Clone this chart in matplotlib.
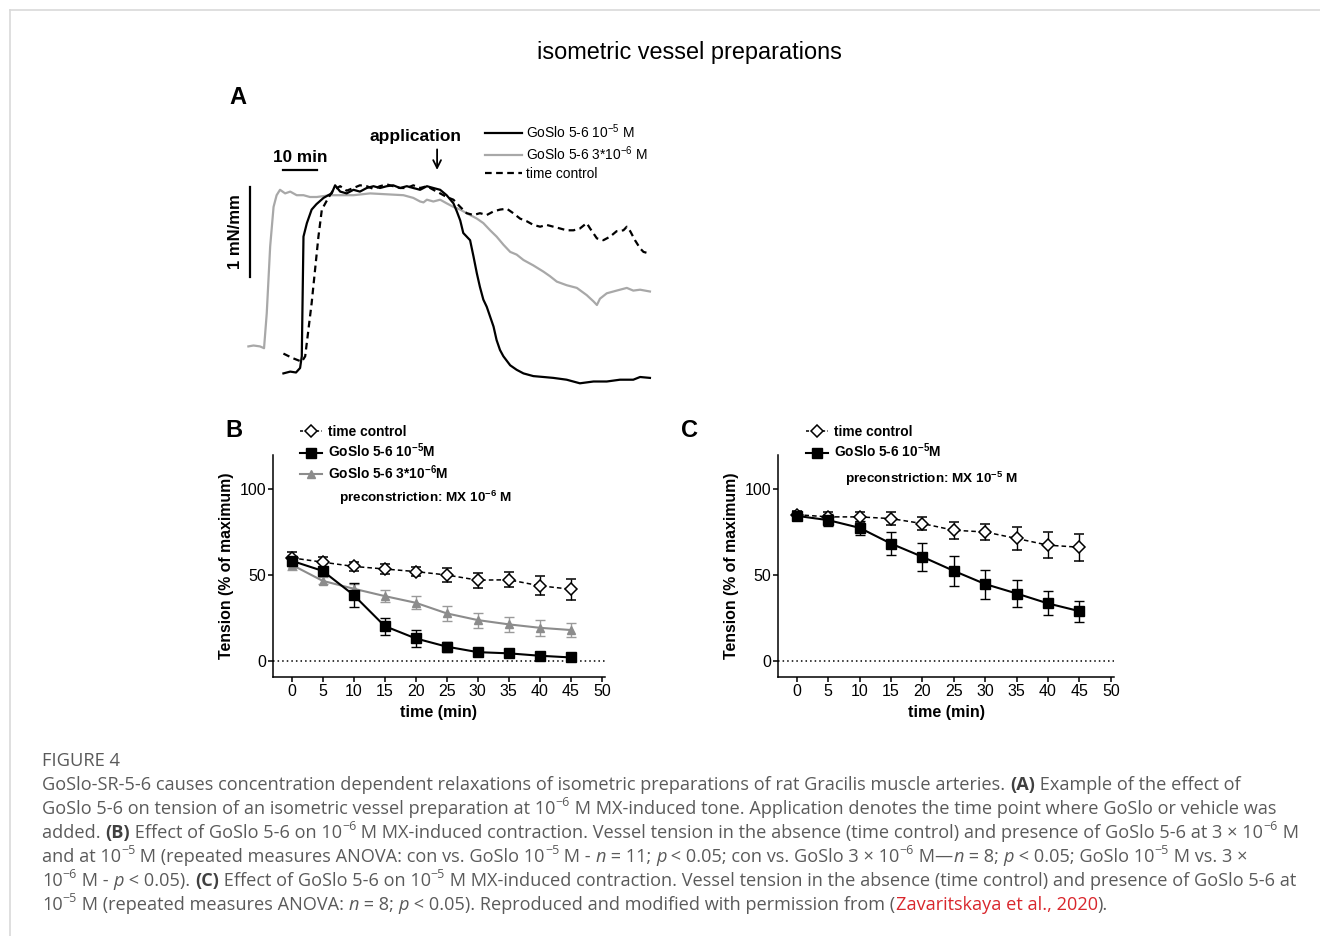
import matplotlib
matplotlib.use("Agg")
import matplotlib.pyplot as plt
from matplotlib.lines import Line2D

W, H = 1320, 936

plt.rcParams['font.family'] = 'Liberation Sans'
plt.rcParams['mathtext.fontset'] = 'custom'
plt.rcParams['mathtext.rm'] = 'Liberation Sans'
plt.rcParams['mathtext.bf'] = 'Liberation Sans:bold'
plt.rcParams['mathtext.it'] = 'Liberation Sans:italic'
plt.rcParams['mathtext.default'] = 'regular'

## Data
# Panel A: example myograph traces (time in min, tension in mN/mm)
gray_t = [0, 1.5, 3.4, 4.6, 5.4, 6.4, 7.4, 8.3, 9.3, 10.8, 12.3, 14.2, 16.2, 18.1, 20.1, 22.1,
          24.0, 27.0, 30.9, 35.8, 40.7, 45.6, 48.5, 50.5, 51.5, 52.5, 54.4, 56.4, 58.3, 60.3,
          62.3, 64.2, 67.2, 69.1, 71.1, 73.0, 75.0, 77.0, 78.9, 80.9, 83.8, 86.8, 88.7, 90.7,
          93.6, 96.6, 99.5, 101.5, 102.5, 103.4, 105.4, 108.3, 111.3, 113.2, 115.2, 118.1]
gray_f = [0.41, 0.42, 0.41, 0.39, 0.78, 1.52, 1.96, 2.09, 2.15, 2.11, 2.13, 2.09, 2.09, 2.07, 2.07, 2.08,
          2.09, 2.09, 2.09, 2.11, 2.10, 2.09, 2.06, 2.02, 2.01, 2.04, 2.02, 2.04, 2.00, 1.96,
          1.93, 1.89, 1.83, 1.78, 1.70, 1.63, 1.54, 1.46, 1.43, 1.37, 1.31, 1.24, 1.19, 1.13,
          1.09, 1.06, 0.98, 0.91, 0.87, 0.94, 1.00, 1.03, 1.06, 1.03, 1.04, 1.02]

black_t = [10.3, 12.3, 14.0, 15.2, 15.7, 16.2, 17.2, 18.6, 20.0, 22.1, 23.5, 24.5, 25.5, 27.0,
           28.9, 30.9, 32.8, 34.8, 36.8, 38.7, 40.7, 42.6, 44.6, 46.6, 48.5, 50.5, 52.5, 54.4,
           56.4, 58.3, 60.3, 61.3, 62.3, 63.2, 64.2, 65.2, 66.2, 67.2, 68.1, 69.1, 70.1, 71.1,
           72.1, 73.0, 74.0, 75.0, 77.0, 78.9, 80.9, 83.8, 86.8, 89.7, 93.6, 97.5, 101.5, 105.4,
           109.3, 113.2, 115.2, 118.1]
black_f = [0.11, 0.13, 0.12, 0.17, 0.30, 1.63, 1.78, 1.93, 1.99, 2.06, 2.09, 2.11, 2.20, 2.13,
           2.11, 2.15, 2.13, 2.17, 2.19, 2.17, 2.19, 2.20, 2.17, 2.19, 2.17, 2.15, 2.19, 2.17,
           2.15, 2.09, 2.00, 1.91, 1.81, 1.67, 1.63, 1.59, 1.41, 1.22, 1.07, 0.93, 0.85, 0.74,
           0.63, 0.48, 0.37, 0.30, 0.20, 0.15, 0.11, 0.08, 0.07, 0.06, 0.04, 0.00, 0.02, 0.02,
           0.04, 0.04, 0.07, 0.06]

ctrl_t = [10.3, 13.0, 15.7, 16.7, 18.6, 20.6, 21.6, 23.5, 25.0, 27.0, 28.9, 30.9, 32.8, 34.8,
          36.8, 38.7, 40.7, 42.6, 44.6, 46.6, 48.5, 50.5, 52.5, 54.4, 56.4, 58.3, 60.3, 62.3,
          64.2, 66.2, 68.1, 70.1, 72.1, 74.0, 76.0, 77.9, 79.9, 81.9, 83.8, 85.8, 87.7, 89.7,
          91.7, 93.6, 95.6, 97.5, 99.5, 100.5, 102.5, 104.4, 106.4, 108.3, 110.3, 111.3, 112.3,
          113.7, 115.2, 116.2, 118.1]
ctrl_f = [0.33, 0.28, 0.24, 0.30, 0.89, 1.63, 1.93, 2.06, 2.15, 2.19, 2.14, 2.17, 2.20, 2.19,
          2.16, 2.19, 2.21, 2.19, 2.17, 2.17, 2.20, 2.17, 2.19, 2.15, 2.11, 2.07, 2.04, 1.96,
          1.89, 1.87, 1.89, 1.87, 1.91, 1.93, 1.94, 1.89, 1.83, 1.80, 1.76, 1.74, 1.76, 1.74,
          1.72, 1.70, 1.70, 1.72, 1.78, 1.72, 1.61, 1.59, 1.63, 1.69, 1.70, 1.74, 1.69,
          1.59, 1.50, 1.46, 1.44]

# Panels B and C: tension (% of maximum) +/- SEM
minutes = [0, 5, 10, 15, 20, 25, 30, 35, 40, 45]

b_ctrl = [60, 57.5, 55, 53.5, 52, 50, 47, 47.2, 43.7, 41.7]
b_ctrl_err = [3.5, 3.2, 2.7, 3.2, 2.8, 3.9, 4.3, 4.3, 5.6, 6.1]
b_hi = [58.3, 52.4, 38.3, 20.2, 13, 8.2, 5, 4.3, 2.9, 1.9]
b_hi_err = [3, 2.5, 6.8, 5, 4.8, 3, 2, 1.5, 1, 1]
b_lo = [56, 46.6, 42, 37.7, 33.8, 27.6, 23.7, 21.2, 19.2, 17.9]
b_lo_err = [3, 2, 3, 3.4, 3.7, 4.4, 4.4, 4.2, 4.6, 4.1]

c_ctrl = [85.2, 83.9, 83.9, 82.9, 80, 76.1, 75.1, 71.3, 67.4, 66.2]
c_ctrl_err = [2.4, 2.9, 2.9, 3.9, 3.9, 4.9, 4.9, 6.8, 7.4, 7.8]
c_hi = [84.5, 82, 77.5, 68.3, 60.6, 52.4, 44.7, 39.2, 33.4, 28.9]
c_hi_err = [2, 3.4, 4.1, 6.6, 8, 8.7, 8.5, 7.8, 7, 6.2]

x_ticks = [0, 5, 10, 15, 20, 25, 30, 35, 40, 45, 50]
y_ticks = [0, 50, 100]

GREY_TRACE = '#a8a8a8'
GREY_TRI = '#8c8c8c'
CAP_GREY = '#5a5a5a'


def rect(l, t, r, b):
    # pixel box (top-left origin) -> figure fraction
    return [l / W, 1 - b / H, (r - l) / W, (b - t) / H]


fig = plt.figure(figsize=(W / 100, H / 100), dpi=100)

# frame lines of the page
fig.add_artist(Line2D([10 / W, 1], [1 - 9.5 / H] * 2, color='#d9d9d9', lw=1.2))
fig.add_artist(Line2D([10 / W] * 2, [0, 1 - 9.5 / H], color='#d9d9d9', lw=1.2))

fig.text(689 / W, 1 - 52 / H, 'isometric vessel preparations', ha='center', va='center', fontsize=16.9)

## Panel A
axA = fig.add_axes(rect(228, 113.3, 656.4, 392.3))
axA.plot(gray_t, gray_f, color=GREY_TRACE, lw=1.6, label='GoSlo 5-6 3*10$^{-6}$ M')
axA.plot(ctrl_t, ctrl_f, color='black', lw=1.6, dashes=(3, 2), label='time control')
axA.plot(black_t, black_f, color='black', lw=1.6, label='GoSlo 5-6 10$^{-5}$ M')
axA.set_xlim(-6, 120)
axA.set_ylim(-0.1, 3.0)
axA.axis('off')

# scale bars
axA.plot([10.2, 20.2], [2.37, 2.37], color='black', lw=1.6)
axA.text(15.2, 2.51, '10 min', ha='center', va='center', fontsize=12.3, fontweight='bold')
axA.plot([0.35, 0.35], [1.18, 2.18], color='black', lw=1.6)
axA.text(-3.9, 1.68, '1 mN/mm', ha='center', va='center', rotation=90, fontsize=12, fontweight='bold')
axA.text(49.0, 2.74, 'application', ha='center', va='center', fontsize=12.5, fontweight='bold')
axA.annotate('', xy=(55.5, 2.34), xytext=(55.5, 2.63),
             arrowprops=dict(arrowstyle='->', lw=1.3, color='black', mutation_scale=14))

hA, lA = axA.get_legend_handles_labels()
order = [2, 0, 1]
axA.legend([hA[i] for i in order], [lA[i] for i in order], loc='upper left',
           bbox_to_anchor=(485 / W, 1 - 122 / H), bbox_transform=fig.transFigure,
           frameon=False, fontsize=9.9, handlelength=2.7, handletextpad=0.3,
           labelspacing=0.27, borderpad=0, borderaxespad=0)

fig.text(238 / W, 1 - 97 / H, 'A', ha='center', va='center', fontsize=17, fontweight='bold')


def style_axes(ax):
    ax.set_xlim(-3, 50.5)
    ax.set_ylim(-9.5, 120)
    ax.set_xticks(x_ticks)
    ax.set_yticks(y_ticks)
    for s in ['top', 'right']:
        ax.spines[s].set_visible(False)
    for s in ['left', 'bottom']:
        ax.spines[s].set_linewidth(1.1)
    ax.tick_params(direction='out', length=3.6, width=1.1, labelsize=11.5, pad=1.5)
    ax.axhline(0, color='black', lw=1.1, ls=(0, (1, 2)), zorder=1)
    ax.set_xlabel('time (min)', fontsize=11.6, fontweight='bold', labelpad=4)
    ax.set_ylabel('Tension (% of maximum)', fontsize=11.4, fontweight='bold', labelpad=4)


ctrl_kw = dict(color='black', ls='--', dashes=(3, 2), lw=1.1, marker='D', ms=6, mfc='white',
               mec='black', mew=1.1, ecolor='black', elinewidth=1.0, capsize=3.5, capthick=1.0)
hi_kw = dict(color='black', lw=1.5, marker='s', ms=6.5, ecolor='black', elinewidth=1.0,
             capsize=3.5, capthick=1.0)
lo_kw = dict(color=GREY_TRI, lw=1.5, marker='^', ms=6, ecolor='#9a9a9a', elinewidth=1.0,
             capsize=3.5, capthick=1.0)

h_ctrl = Line2D([], [], color='black', ls='--', dashes=(2, 1.5), lw=1.1, marker='D', ms=6,
                mfc='white', mec='black', mew=1.1)
h_hi = Line2D([], [], color='black', lw=1.5, marker='s', ms=6.5)
h_lo = Line2D([], [], color=GREY_TRI, lw=1.5, marker='^', ms=6)
leg_kw = dict(loc='upper left', bbox_transform=fig.transFigure, frameon=False, numpoints=1,
              prop=dict(size=9.9, weight='bold'), handlelength=1.6, handletextpad=0.4,
              labelspacing=0.2, borderpad=0, borderaxespad=0)

## Panel B
axB = fig.add_axes(rect(273, 455, 605, 677))
style_axes(axB)
axB.errorbar(minutes, b_ctrl, yerr=b_ctrl_err, **ctrl_kw)
axB.errorbar(minutes, b_lo, yerr=b_lo_err, **lo_kw)
axB.errorbar(minutes, b_hi, yerr=b_hi_err, **hi_kw)
axB.text(21.5, 94.8, 'preconstriction: MX 10$^{\\mathbf{-6}}$ M', ha='center', va='center',
         fontsize=9.7, fontweight='bold')
axB.legend([h_ctrl, h_hi, h_lo],
           ['time control', 'GoSlo 5-6 10$^{\\mathbf{-5}}$M', 'GoSlo 5-6 3*10$^{\\mathbf{-6}}$M'],
           bbox_to_anchor=(300 / W, 1 - 425 / H), **leg_kw)
fig.text(234 / W, 1 - 431 / H, 'B', ha='center', va='center', fontsize=17, fontweight='bold')

## Panel C
axC = fig.add_axes(rect(778, 455, 1114, 677))
style_axes(axC)
axC.errorbar(minutes, c_ctrl, yerr=c_ctrl_err, **ctrl_kw)
axC.errorbar(minutes, c_hi, yerr=c_hi_err, **hi_kw)
axC.text(21.4, 106, 'preconstriction: MX 10$^{\\mathbf{-5}}$ M', ha='center', va='center',
         fontsize=9.7, fontweight='bold')
axC.legend([h_ctrl, h_hi], ['time control', 'GoSlo 5-6 10$^{\\mathbf{-5}}$M'],
           bbox_to_anchor=(806 / W, 1 - 425 / H), **leg_kw)
fig.text(689 / W, 1 - 431 / H, 'C', ha='center', va='center', fontsize=17, fontweight='bold')

## Caption
renderer = fig.canvas.get_renderer()


def caption_line(x, y, runs, size=13.1):
    for txt, st in runs:
        kw = dict(family='Open Sans', fontsize=size, color=CAP_GREY)
        dy = 0
        if 'b' in st:
            kw['fontweight'] = 'bold'
            kw['color'] = '#404040'
        if 'i' in st:
            kw['fontstyle'] = 'italic'
        if 's' in st:
            kw['fontsize'] = size * 0.68
            dy = size * 0.42 * 100 / 72
        if 'r' in st:
            kw['color'] = '#d9262c'
        t = fig.text(x / W, 1 - (y - dy) / H, txt, ha='left', va='baseline', **kw)
        fp = t.get_fontproperties()
        w1 = renderer.get_text_width_height_descent('|' + txt + '|', fp, ismath=False)[0]
        w0 = renderer.get_text_width_height_descent('||', fp, ismath=False)[0]
        x += w1 - w0


MINUS = '\u2212'
caption_line(42, 766, [('FIGURE 4', '')], size=13.2)
caption_line(42, 790, [('GoSlo-SR-5-6 causes concentration dependent relaxations of isometric preparations '
                        'of rat Gracilis muscle arteries. ', ''), ('(A)', 'b'),
                       (' Example of the effect of', '')])
caption_line(42, 814, [('GoSlo 5-6 on tension of an isometric vessel preparation at 10', ''),
                       (MINUS + '6', 's'),
                       (' M MX-induced tone. Application denotes the time point where GoSlo or vehicle was', '')])
caption_line(42, 838, [('added. ', ''), ('(B)', 'b'), (' Effect of GoSlo 5-6 on 10', ''), (MINUS + '6', 's'),
                       (' M MX-induced contraction. Vessel tension in the absence (time control) and presence '
                        'of GoSlo 5-6 at 3 \u00d7 10', ''), (MINUS + '6', 's'), (' M', '')])
caption_line(42, 862, [('and at 10', ''), (MINUS + '5', 's'),
                       (' M (repeated measures ANOVA: con vs. GoSlo 10', ''), (MINUS + '5', 's'),
                       (' M - ', ''), ('n', 'i'), (' = 11; ', ''), ('p', 'i'),
                       (' < 0.05; con vs. GoSlo 3 \u00d7 10', ''), (MINUS + '6', 's'), (' M\u2014', ''),
                       ('n', 'i'), (' = 8; ', ''), ('p', 'i'), (' < 0.05; GoSlo 10', ''), (MINUS + '5', 's'),
                       (' M vs. 3 \u00d7', '')])
caption_line(42, 886, [('10', ''), (MINUS + '6', 's'), (' M - ', ''), ('p', 'i'), (' < 0.05). ', ''),
                       ('(C)', 'b'), (' Effect of GoSlo 5-6 on 10', ''), (MINUS + '5', 's'),
                       (' M MX-induced contraction. Vessel tension in the absence (time control) and '
                        'presence of GoSlo 5-6 at', '')])
caption_line(42, 910, [('10', ''), (MINUS + '5', 's'), (' M (repeated measures ANOVA: ', ''), ('n', 'i'),
                       (' = 8; ', ''), ('p', 'i'),
                       (' < 0.05). Reproduced and modified with permission from (', ''),
                       ('Zavaritskaya et al., 2020', 'r'), (').', '')])

fig.savefig('out.png', dpi=100)
